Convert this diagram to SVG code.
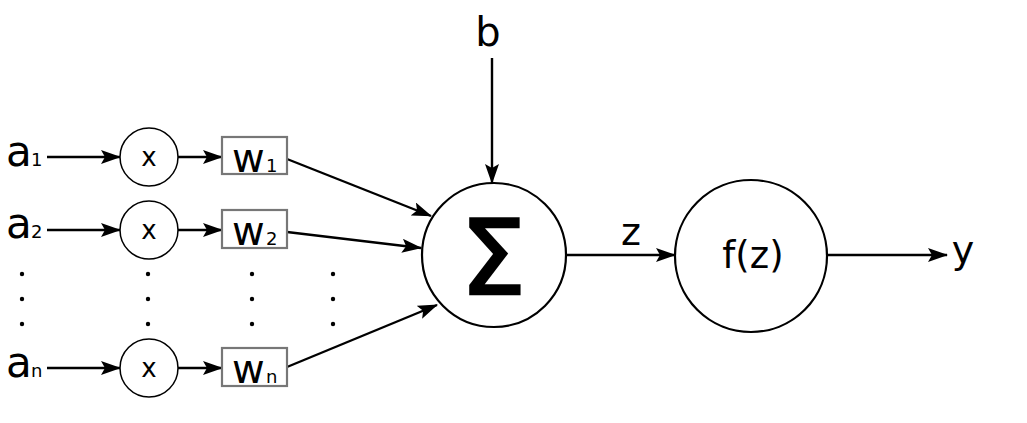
<svg xmlns="http://www.w3.org/2000/svg" width="1027" height="423" viewBox="0 0 1027 423">
<style>
.t{font-family:"DejaVu Sans",sans-serif;fill:#000}
.big{font-size:42px}
.sub{font-size:18px}
.w{font-size:40px}
.x{font-size:26px}
.c{fill:#fff;stroke:#000;stroke-width:1.5}
.C{fill:#fff;stroke:#000;stroke-width:2.2}
.box{fill:#fff;stroke:#777;stroke-width:2.2}
.ln{stroke:#000;stroke-width:2.4;fill:none;marker-end:url(#ah)}
.dot{fill:#000}
</style>
<defs>
<marker id="ah" viewBox="0 0 20 14" refX="19" refY="7" markerWidth="20" markerHeight="14" markerUnits="userSpaceOnUse" orient="auto">
<path d="M0,0 L20,7 L0,14 L4,7 Z" fill="#000"/>
</marker>
</defs>
<g id="connectors">
<line class="ln" x1="47" y1="157" x2="120" y2="157"/>
<line class="ln" x1="178" y1="157" x2="222" y2="157"/>
<line class="ln" x1="47" y1="230" x2="120" y2="230"/>
<line class="ln" x1="178" y1="230" x2="222" y2="230"/>
<line class="ln" x1="47" y1="368" x2="120" y2="368"/>
<line class="ln" x1="178" y1="368" x2="222" y2="368"/>
<line class="ln" x1="287" y1="159" x2="431" y2="216"/>
<line class="ln" x1="287" y1="232" x2="421" y2="248"/>
<line class="ln" x1="287" y1="367" x2="437" y2="305"/>
<line class="ln" x1="492" y1="58" x2="492" y2="183"/>
<line class="ln" x1="567" y1="255" x2="675" y2="255"/>
<line class="ln" x1="827" y1="255" x2="947" y2="255"/>
</g>
<g id="a1"><text class="t big" x="6" y="166">a</text><text class="t sub" x="31" y="166">1</text></g>
<g id="a2"><text class="t big" x="6" y="238">a</text><text class="t sub" x="31" y="238">2</text></g>
<g id="an"><text class="t big" x="6" y="377">a</text><text class="t sub" x="31" y="377">n</text></g>
<g id="x1"><circle class="c" cx="149" cy="157" r="29"/><text class="t x" x="149" y="166" text-anchor="middle">x</text></g>
<g id="x2"><circle class="c" cx="149" cy="230" r="29"/><text class="t x" x="149" y="239" text-anchor="middle">x</text></g>
<g id="xn"><circle class="c" cx="149" cy="368" r="29"/><text class="t x" x="149" y="377" text-anchor="middle">x</text></g>
<g id="w1"><rect class="box" x="222" y="137" width="65" height="37"/><text class="t w" x="232" y="172">w</text><text class="t sub" x="266" y="172">1</text></g>
<g id="w2"><rect class="box" x="222" y="210" width="65" height="38"/><text class="t w" x="232" y="245">w</text><text class="t sub" x="266" y="245">2</text></g>
<g id="wn"><rect class="box" x="222" y="348" width="65" height="38"/><text class="t w" x="232" y="383">w</text><text class="t sub" x="266" y="383">n</text></g>
<g id="dots">
<circle class="dot" cx="22" cy="274" r="2.2"/><circle class="dot" cx="22" cy="299" r="2.2"/><circle class="dot" cx="22" cy="324" r="2.2"/>
<circle class="dot" cx="148" cy="274" r="2.2"/><circle class="dot" cx="148" cy="299" r="2.2"/><circle class="dot" cx="148" cy="324" r="2.2"/>
<circle class="dot" cx="252" cy="274" r="2.2"/><circle class="dot" cx="252" cy="299" r="2.2"/><circle class="dot" cx="252" cy="324" r="2.2"/>
<circle class="dot" cx="333" cy="274" r="2.2"/><circle class="dot" cx="333" cy="299" r="2.2"/><circle class="dot" cx="333" cy="324" r="2.2"/>
</g>
<g id="b"><text class="t" x="488" y="46" font-size="40" text-anchor="middle">b</text></g>
<g id="sum"><circle class="C" cx="494" cy="255" r="72"/><text class="t" x="493" y="294" font-size="104" stroke="#000" stroke-width="2.5" text-anchor="middle">Σ</text></g>
<g id="z"><text class="t" x="631" y="245" font-size="38" text-anchor="middle">z</text></g>
<g id="fz"><circle class="C" cx="751" cy="256" r="76"/><text class="t" x="753" y="268" font-size="37" text-anchor="middle">f(z)</text></g>
<g id="y"><text class="t" x="963" y="263" font-size="38" text-anchor="middle">y</text></g>
</svg>
